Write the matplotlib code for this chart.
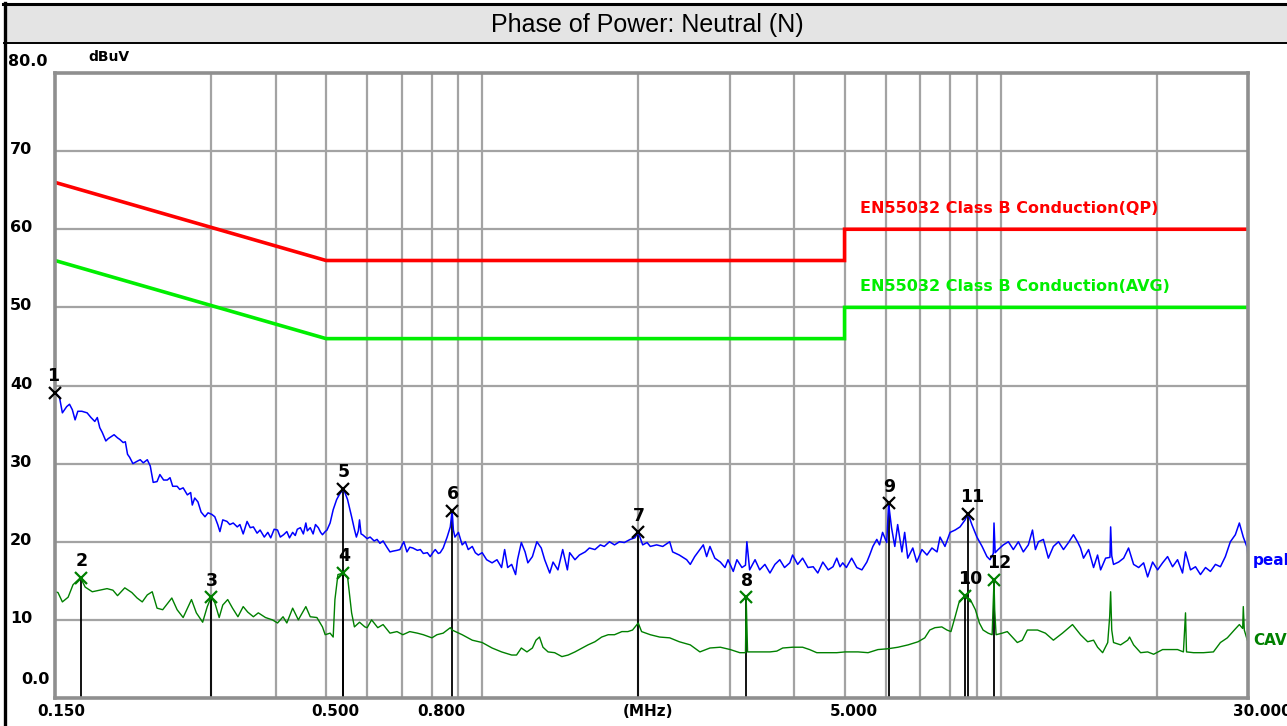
import matplotlib
matplotlib.use('Agg')
import matplotlib.pyplot as plt
from matplotlib.transforms import blended_transform_factory, ScaledTranslation
from matplotlib.patches import Rectangle
from matplotlib.lines import Line2D
from matplotlib.ticker import NullLocator

# ---------------- data ----------------
title = "Phase of Power: Neutral (N)"
y_unit = "dBuV"
x_tick_freqs = [0.15, 0.5, 0.8, 2.0, 5.0, 30.0]
x_tick_labels = ["0.150", "0.500", "0.800", "(MHz)", "5.000", "30.000"]
y_tick_values = [80, 70, 60, 50, 40, 30, 20, 10, 0]
y_tick_labels = ["80.0", "70", "60", "50", "40", "30", "20", "10", "0.0"]
grid_freqs = [0.3, 0.4, 0.5, 0.6, 0.7, 0.8, 0.9, 1, 2, 3, 4, 5, 6, 7, 8, 9, 10, 20]
grid_levels = [10, 20, 30, 40, 50, 60, 70]

qp_limit_freq = [0.15, 0.5, 5.0, 5.0, 30.0]
qp_limit_level = [66, 56, 56, 60, 60]
avg_limit_freq = [0.15, 0.5, 5.0, 5.0, 30.0]
avg_limit_level = [56, 46, 46, 50, 50]
qp_label = "EN55032 Class B Conduction(QP)"
avg_label = "EN55032 Class B Conduction(AVG)"

peak_freq = [
    0.150, 0.153, 0.155, 0.158, 0.160, 0.162, 0.164, 0.166, 0.169, 0.173,
    0.176, 0.179, 0.181, 0.183, 0.185, 0.188, 0.190, 0.195, 0.198, 0.200,
    0.203, 0.205, 0.207, 0.209, 0.212, 0.216, 0.219, 0.222, 0.226, 0.229,
    0.232, 0.236, 0.239, 0.243, 0.247, 0.250, 0.253, 0.258, 0.261, 0.265,
    0.270, 0.274, 0.276, 0.279, 0.283, 0.287, 0.292, 0.296, 0.301, 0.305,
    0.309, 0.312, 0.316, 0.322, 0.326, 0.331, 0.337, 0.341, 0.346, 0.352,
    0.357, 0.362, 0.368, 0.373, 0.380, 0.386, 0.391, 0.397, 0.403, 0.408,
    0.414, 0.420, 0.425, 0.431, 0.436, 0.440, 0.446, 0.452, 0.457, 0.460,
    0.466, 0.472, 0.477, 0.483, 0.488, 0.492, 0.498, 0.502, 0.509, 0.516,
    0.524, 0.530, 0.540, 0.550, 0.560, 0.567, 0.572, 0.577, 0.580, 0.584,
    0.588, 0.600, 0.608, 0.619, 0.627, 0.635, 0.644, 0.655, 0.664, 0.673,
    0.685, 0.694, 0.706, 0.716, 0.725, 0.735, 0.750, 0.760, 0.770, 0.784,
    0.794, 0.805, 0.812, 0.823, 0.830, 0.841, 0.856, 0.868, 0.875, 0.880,
    0.886, 0.900, 0.915, 0.928, 0.940, 0.957, 0.970, 0.983, 1.00, 1.02,
    1.045, 1.068, 1.09, 1.105, 1.12, 1.14, 1.16, 1.17, 1.19, 1.21,
    1.225, 1.25, 1.275, 1.30, 1.32, 1.35, 1.37, 1.40, 1.43, 1.46,
    1.475, 1.51, 1.54, 1.58, 1.61, 1.65, 1.69, 1.72, 1.76, 1.80,
    1.84, 1.88, 1.93, 1.97, 2.00, 2.04, 2.08, 2.11, 2.17, 2.23,
    2.30, 2.33, 2.40, 2.48, 2.52, 2.57, 2.63, 2.67, 2.71, 2.75,
    2.81, 2.88, 2.94, 2.98, 3.05, 3.10, 3.17, 3.22, 3.24, 3.28,
    3.36, 3.43, 3.51, 3.59, 3.67, 3.75, 3.83, 3.92, 3.97, 4.06,
    4.15, 4.25, 4.35, 4.44, 4.54, 4.65, 4.75, 4.83, 4.90, 4.96,
    5.04, 5.16, 5.28, 5.40, 5.52, 5.59, 5.67, 5.77, 5.84, 5.92,
    6.03, 6.08, 6.16, 6.25, 6.33, 6.45, 6.53, 6.62, 6.77, 6.89,
    7.05, 7.21, 7.37, 7.54, 7.64, 7.81, 7.99, 8.17, 8.35, 8.54,
    8.65, 8.80, 9.00, 9.21, 9.41, 9.54, 9.68, 9.71, 9.76, 9.89,
    10.12, 10.35, 10.58, 10.82, 11.06, 11.31, 11.52, 11.67, 11.83, 12.09,
    12.36, 12.64, 12.93, 13.22, 13.52, 13.82, 14.07, 14.26, 14.45, 14.78,
    15.11, 15.38, 15.59, 15.94, 16.25, 16.30, 16.38, 16.51, 16.89, 17.27,
    17.65, 18.05, 18.46, 18.87, 19.21, 19.64, 20.08, 20.53, 20.99, 21.46,
    21.94, 22.43, 22.73, 23.24, 23.76, 24.29, 24.84, 25.39, 25.96, 26.54,
    27.13, 27.74, 28.36, 28.87, 29.38, 29.91, 30.0,
]
peak_level = [
    39.1, 38.5, 36.5, 37.3, 37.6, 36.9, 35.6, 36.7, 36.7, 36.5,
    35.9, 35.4, 35.9, 34.6, 34.0, 32.9, 33.2, 33.7, 33.3, 33.1,
    32.7, 32.8, 31.2, 30.8, 30.0, 30.3, 30.5, 30.1, 30.5, 29.7,
    27.6, 27.7, 28.6, 27.9, 27.9, 28.2, 27.1, 27.1, 26.7, 26.9,
    26.0, 26.3, 24.7, 25.6, 25.1, 23.8, 23.2, 23.7, 23.5, 23.2,
    22.2, 21.3, 22.8, 22.6, 22.2, 22.4, 21.9, 22.2, 21.0, 22.6,
    21.8, 21.9, 21.1, 21.5, 20.6, 21.2, 20.5, 21.6, 21.5, 20.6,
    20.9, 21.3, 20.5, 21.2, 20.8, 21.6, 21.8, 21.0, 22.4, 21.4,
    21.8, 21.0, 22.2, 21.8, 21.2, 20.9, 21.3, 21.5, 22.4, 24.1,
    25.4, 26.0, 26.8, 25.4, 23.2, 21.6, 20.6, 21.4, 22.8, 21.0,
    20.9, 20.4, 20.6, 20.1, 20.3, 19.8, 20.1, 19.3, 18.7, 18.8,
    18.9, 19.0, 20.0, 18.7, 19.3, 19.2, 18.9, 19.0, 18.5, 18.6,
    18.1, 18.7, 19.0, 18.5, 18.6, 19.2, 20.6, 21.9, 24.0, 21.5,
    20.6, 21.2, 19.6, 20.0, 19.0, 19.4, 18.6, 18.3, 18.6, 17.7,
    17.3, 17.7, 16.7, 19.0, 16.7, 17.1, 15.8, 17.7, 19.9, 18.7,
    17.3, 18.1, 20.0, 19.2, 17.7, 16.0, 17.4, 16.4, 19.0, 16.4,
    18.6, 17.7, 18.3, 18.7, 19.2, 19.0, 19.6, 19.4, 20.0, 19.6,
    20.0, 19.9, 20.3, 20.5, 21.2, 19.6, 19.9, 19.4, 19.6, 19.4,
    20.0, 18.7, 18.3, 17.7, 17.1, 18.1, 19.0, 19.6, 18.1, 19.4,
    17.9, 17.4, 16.7, 17.7, 16.2, 17.7, 16.7, 17.0, 20.0, 16.4,
    17.7, 16.4, 17.1, 16.0, 17.1, 17.7, 16.7, 17.3, 18.3, 17.1,
    17.9, 16.7, 16.8, 16.0, 17.4, 16.4, 16.8, 17.9, 16.8, 17.3,
    16.7, 17.9, 16.7, 16.4, 17.4, 18.3, 19.4, 20.3, 19.6, 21.2,
    19.9, 24.9, 21.8, 19.4, 22.2, 18.7, 21.2, 17.9, 19.2, 17.4,
    19.0, 18.3, 19.2, 18.7, 20.6, 19.4, 21.2, 21.5, 21.9, 22.8,
    23.6, 22.2, 20.6, 19.4, 18.1, 17.7, 18.5, 22.4, 18.6, 19.0,
    19.6, 20.0, 19.0, 20.0, 18.7, 19.6, 21.5, 19.0, 20.0, 20.3,
    17.9, 19.4, 20.0, 19.0, 19.9, 20.9, 20.0, 19.2, 17.9, 19.0,
    16.7, 18.3, 16.4, 17.9, 18.0, 21.9, 18.2, 17.1, 17.4, 17.9,
    19.2, 17.1, 16.7, 17.3, 15.5, 17.4, 16.4, 17.3, 18.1, 16.8,
    17.7, 16.0, 18.7, 16.4, 16.8, 15.8, 16.7, 16.2, 17.1, 16.8,
    18.1, 20.0, 20.9, 22.4, 20.6, 19.2, 17.9,
]

cav_freq = [
    0.150, 0.152, 0.155, 0.159, 0.1625, 0.168, 0.1715, 0.177, 0.183, 0.189,
    0.194, 0.198, 0.2045, 0.211, 0.216, 0.221, 0.226, 0.231, 0.236, 0.242,
    0.248, 0.252, 0.258, 0.265, 0.271, 0.275, 0.281, 0.289, 0.295, 0.300,
    0.305, 0.311, 0.316, 0.323, 0.330, 0.338, 0.346, 0.353, 0.362, 0.370,
    0.382, 0.394, 0.403, 0.413, 0.420, 0.431, 0.442, 0.457, 0.466, 0.480,
    0.492, 0.498, 0.509, 0.516, 0.520, 0.527, 0.540, 0.550, 0.560, 0.567,
    0.580, 0.594, 0.600, 0.612, 0.629, 0.644, 0.664, 0.685, 0.703, 0.725,
    0.750, 0.770, 0.800, 0.818, 0.841, 0.868, 0.875, 0.915, 0.957, 1.00,
    1.045, 1.09, 1.14, 1.165, 1.19, 1.22, 1.25, 1.27, 1.29, 1.31,
    1.34, 1.38, 1.425, 1.465, 1.51, 1.56, 1.60, 1.65, 1.70, 1.75,
    1.80, 1.86, 1.91, 1.95, 2.00, 2.03, 2.11, 2.20, 2.30, 2.40,
    2.52, 2.63, 2.75, 2.88, 3.01, 3.14, 3.22, 3.23, 3.24, 3.25,
    3.43, 3.59, 3.70, 3.80, 3.97, 4.15, 4.28, 4.42, 4.62, 4.83,
    5.01, 5.31, 5.55, 5.80, 6.06, 6.34, 6.63, 6.93, 7.14, 7.30,
    7.47, 7.70, 7.88, 8.02, 8.17, 8.31, 8.54, 8.74, 8.94, 9.10,
    9.25, 9.46, 9.63, 9.71, 9.74, 9.80, 10.07, 10.30, 10.53, 10.77,
    11.01, 11.26, 11.57, 11.78, 12.20, 12.64, 13.16, 13.76, 14.26, 14.72,
    15.11, 15.38, 15.73, 16.09, 16.23, 16.30, 16.38, 16.51, 17.04, 17.58,
    17.73, 18.05, 18.62, 19.21, 19.73, 20.53, 21.23, 21.94, 22.52, 22.73,
    22.83, 23.56, 24.62, 25.73, 26.54, 27.37, 28.23, 28.87, 29.30, 29.38,
    29.51, 29.91, 30.0,
]
cav_level = [
    13.6, 13.5, 12.3, 12.9, 14.5, 15.4, 14.2, 13.6, 13.8, 14.0,
    13.8, 13.1, 14.1, 13.5, 12.8, 12.3, 13.2, 13.6, 11.5, 11.3,
    12.2, 12.8, 11.3, 10.3, 11.7, 12.6, 10.9, 9.7, 11.7, 12.9,
    12.2, 10.3, 11.9, 12.6, 11.5, 10.4, 11.7, 11.0, 10.4, 10.9,
    10.3, 10.0, 9.6, 10.4, 9.6, 11.5, 10.0, 11.7, 10.4, 10.3,
    9.1, 8.1, 8.3, 7.8, 12.6, 15.8, 16.0, 15.5, 10.9, 9.1,
    9.7, 9.1, 9.0, 10.0, 9.0, 9.4, 8.3, 8.5, 8.1, 8.5,
    8.3, 8.1, 7.7, 8.1, 8.3, 9.0, 8.7, 8.1, 7.4, 7.1,
    6.4, 5.9, 5.5, 5.5, 6.4, 5.9, 6.4, 7.4, 7.8, 6.5,
    5.9, 5.8, 5.3, 5.5, 5.9, 6.4, 6.8, 7.2, 7.8, 8.1,
    8.1, 8.5, 8.5, 8.7, 9.6, 8.5, 8.1, 7.8, 7.7, 7.2,
    6.8, 5.9, 6.4, 6.5, 6.2, 5.8, 5.8, 12.9, 9.2, 5.9,
    5.9, 5.9, 6.0, 6.4, 6.5, 6.5, 6.2, 5.8, 5.8, 5.8,
    5.9, 5.9, 5.8, 6.2, 6.3, 6.5, 6.8, 7.2, 7.7, 8.7,
    9.0, 9.1, 8.7, 8.5, 10.4, 12.2, 13.1, 12.6, 11.3, 9.6,
    8.7, 8.3, 8.1, 15.1, 11.3, 8.1, 8.3, 8.5, 7.8, 7.1,
    7.4, 8.7, 8.7, 8.7, 8.3, 7.4, 8.3, 9.4, 8.1, 7.2,
    7.4, 6.5, 5.8, 7.1, 10.4, 13.6, 8.7, 7.1, 6.8, 7.4,
    7.8, 6.8, 5.8, 5.9, 5.6, 6.2, 6.2, 6.2, 5.9, 10.9,
    5.9, 5.8, 5.8, 5.9, 7.1, 7.7, 8.7, 9.4, 8.9, 11.7,
    8.7, 7.4, 7.2,
]

# markers: number, frequency (MHz), level (dBuV), detector trace
marker_no = [1, 2, 3, 4, 5, 6, 7, 8, 9, 10, 11, 12]
marker_freq = [0.150, 0.168, 0.300, 0.540, 0.540, 0.875, 2.00, 3.23, 6.08, 8.54, 8.65, 9.71]
marker_level = [39.1, 15.4, 12.9, 16.0, 26.8, 24.0, 21.2, 12.9, 24.9, 13.1, 23.6, 15.1]
marker_trace = ["peak", "avg", "avg", "avg", "peak", "peak", "peak", "avg", "peak", "avg", "peak", "avg"]

# ---------------- figure ----------------
W, H = 1287, 726
fig = plt.figure(figsize=(W / 100, H / 100), dpi=100)
fig.patch.set_facecolor('white')


def px(dx, dy):
    """pixel offset (dy positive = downward)"""
    return ScaledTranslation(dx / 100.0, -dy / 100.0, fig.dpi_scale_trans)


# title bar and outer frame
fig.patches.append(Rectangle((4 / W, 1 - 42.5 / H), (W - 4) / W, 39 / H,
                             transform=fig.transFigure, facecolor='#e4e4e4',
                             edgecolor='none', zorder=0))
fig.lines.append(Line2D([3 / W, 1], [1 - 3.5 / H, 1 - 3.5 / H], transform=fig.transFigure,
                        color='black', lw=2.2))
fig.lines.append(Line2D([4 / W, 1], [1 - 42.5 / H, 1 - 42.5 / H], transform=fig.transFigure,
                        color='black', lw=1.4))
fig.lines.append(Line2D([4.5 / W, 4.5 / W], [0, 1 - 2.5 / H], transform=fig.transFigure,
                        color='black', lw=2.4))
fig.text(647 / W, 1 - 25 / H, title, ha='center', va='center', fontsize=18,
         family='Liberation Sans', color='black')

ax = fig.add_axes([55 / W, 1 - 698 / H, (1248 - 55) / W, (698 - 73) / H])
ax.set_xscale('log')
ax.set_xlim(0.15, 30)
ax.set_ylim(0, 80)
ax.xaxis.set_major_locator(NullLocator())
ax.xaxis.set_minor_locator(NullLocator())
ax.yaxis.set_major_locator(NullLocator())
for s in ax.spines.values():
    s.set_color('#8f8f8f')
    s.set_linewidth(2.6)
    s.set_zorder(6)

for f in grid_freqs:
    ax.axvline(f, color='#a3a3a3', lw=1.6, zorder=1)
for lv in grid_levels:
    ax.axhline(lv, color='#a3a3a3', lw=1.6, zorder=1)

# limits
ax.plot(qp_limit_freq, qp_limit_level, color='#ff0000', lw=2.6, zorder=3,
        solid_joinstyle='miter')
ax.plot(avg_limit_freq, avg_limit_level, color='#00ee00', lw=2.6, zorder=3,
        solid_joinstyle='miter')
ax.text(5.35, 62.6, qp_label, color='#ff0000', fontsize=11.5, fontweight='bold',
        ha='left', va='center', zorder=4)
ax.text(5.35, 52.7, avg_label, color='#00ee00', fontsize=11.5, fontweight='bold',
        ha='left', va='center', zorder=4)

# marker stems (under the traces)
for f, lv in zip(marker_freq, marker_level):
    ax.plot([f, f], [0, lv], color='black', lw=1.3, zorder=2)

# traces
ax.plot(peak_freq, peak_level, color='#0000ff', lw=1.1, zorder=4)
ax.plot(cav_freq, cav_level, color='#008000', lw=1.0, zorder=4)

# marker symbols & numbers
label_dx = {1: -1.5, 10: 4, 11: 3, 12: 4}
for n, f, lv, tr in zip(marker_no, marker_freq, marker_level, marker_trace):
    c = 'black' if tr == 'peak' else '#008000'
    ax.plot([f], [lv], marker='x', ms=9, mew=1.6, color=c, zorder=7, clip_on=False)
    ax.annotate(str(n), (f, lv), xytext=(label_dx.get(n, 0.5), 12),
                textcoords='offset points', ha='center', va='center',
                fontsize=12.5, fontweight='bold', color='black', zorder=8,
                annotation_clip=False)

# trace labels at right edge
tr_r = blended_transform_factory(ax.transAxes, ax.transData)
ax.text(1.0, 17.6, 'peak', transform=tr_r + px(5, 0), color='#0000ff', fontsize=11,
        fontweight='bold', ha='left', va='center', clip_on=False)
ax.text(1.0, 7.4, 'CAV', transform=tr_r + px(5, 0), color='#008000', fontsize=11,
        fontweight='bold', ha='left', va='center', clip_on=False)

# x tick labels
tr_x = blended_transform_factory(ax.transData, ax.transAxes)
for f, t in zip(x_tick_freqs, x_tick_labels):
    dx = -18 if t == "0.150" else -15
    ax.text(f, 0, t, transform=tr_x + px(dx, 13), ha='left', va='center',
            fontsize=11, fontweight='bold', color='black', clip_on=False)

# y tick labels
tr_y = blended_transform_factory(fig.transFigure, ax.transData)
for v, t in zip(y_tick_values, y_tick_labels):
    if t == "80.0":
        x0, dy = 8, -12
    elif t == "0.0":
        x0, dy = 21, -19
    else:
        x0, dy = 10, -1.5
    ax.text(x0 / W, v, t, transform=tr_y + px(0, dy), ha='left', va='center',
            fontsize=11.5, fontweight='bold', color='black', clip_on=False)

ax.text(88 / W, 80, y_unit, transform=tr_y + px(0, -16), ha='left', va='center',
        fontsize=10, fontweight='bold', color='black', clip_on=False)

fig.savefig('out.png', dpi=100)
